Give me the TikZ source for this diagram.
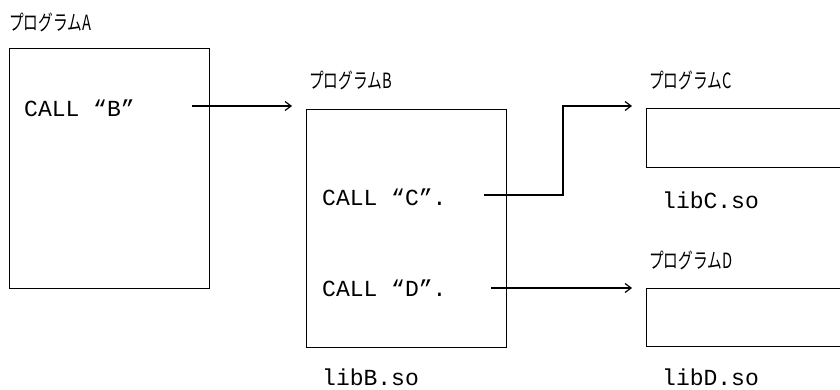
\documentclass[tikz,border=0pt]{standalone}
\usepackage{fontspec}
\newfontfamily\jpfont[FakeStretch=0.7]{Noto Sans CJK JP}
\newfontfamily\codefont{Liberation Mono}
\usetikzlibrary{arrows.meta}
\begin{document}
\begin{tikzpicture}[x=1pt,y=-1pt,
  prog/.style={draw, line width=1.4pt, inner sep=0pt, anchor=north west},
  jplabel/.style={anchor=west, inner sep=0pt, font=\jpfont\fontsize{21}{21}\selectfont},
  code/.style={anchor=west, inner sep=0pt, font=\codefont\fontsize{23}{23}\selectfont},
  conn/.style={line width=1.2pt},
  arr/.style={conn, -{Straight Barb[length=6pt,width=9pt,line width=1.2pt]}}]
\clip (0,0) rectangle (840,390);
\fill[white] (0,0) rectangle (840,390);
% boxes
\node[prog, minimum width=200pt, minimum height=240pt] (boxA) at (9,48) {};
\node[prog, minimum width=200pt, minimum height=238pt] (boxB) at (306,109) {};
\node[prog, minimum width=210pt, minimum height=59pt] (boxC) at (646,108) {};
\node[prog, minimum width=210pt, minimum height=58pt] (boxD) at (646,288) {};
% labels
\node[jplabel] (labA) at (9,22) {プログラムA};
\node[jplabel] (labB) at (309,80) {プログラムB};
\node[jplabel] (labC) at (649,80) {プログラムC};
\node[jplabel] (labD) at (649,260) {プログラムD};
\node[code] (callB) at (24,108) {CALL “B”};
\node[code] (callC) at (322,197) {CALL “C”.};
\node[code] (callD) at (322,288) {CALL “D”.};
\node[code] (libB) at (322,377) {libB.so};
\node[code] (libC) at (662,200) {libC.so};
\node[code] (libD) at (662,377) {libD.so};
% connectors
\coordinate (aS) at (192,106);
\coordinate (aE) at (292,106);
\coordinate (cS) at (484,195);
\coordinate (cK1) at (563,195);
\coordinate (cK2) at (563,106);
\coordinate (cE) at (632,106);
\coordinate (dS) at (491,288);
\coordinate (dE) at (632,288);
\draw[arr] (aS) -- (aE);
\draw[arr] (cS) -- (cK1) -- (cK2) -- (cE);
\draw[arr] (dS) -- (dE);
\end{tikzpicture}
\end{document}
